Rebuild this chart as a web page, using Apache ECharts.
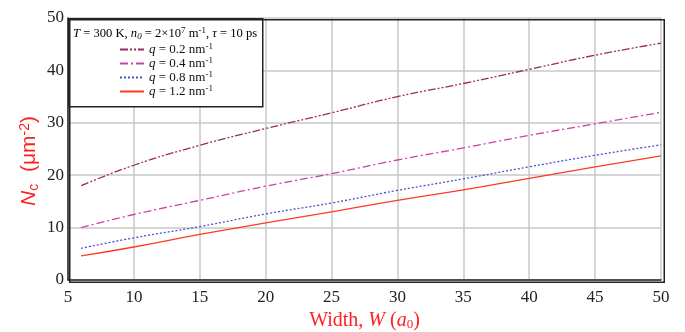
<!DOCTYPE html>
<html>
<head>
<meta charset="utf-8">
<script src="https://cdn.jsdelivr.net/npm/echarts@6/dist/echarts.min.js"></script>
<style>
  html, body { margin: 0; padding: 0; background: #fff; }
  #chart { width: 685px; height: 332px; }
</style>
</head>
<body>
<div id="chart"></div>
<script>
const widths = [6, 10, 15, 20, 25, 30, 35, 40, 45, 50]
// Nc (um^-2) for each q
const nc_q02 = [18.0, 21.9, 25.7, 28.9, 31.9, 35.0, 37.5, 40.2, 42.9, 45.2]
const nc_q04 = [10.0, 12.5, 15.2, 17.9, 20.3, 22.9, 25.2, 27.6, 29.8, 32.0]
const nc_q08 = [6.05, 8.05, 10.2, 12.6, 14.7, 17.1, 19.3, 21.6, 23.8, 25.8]
const nc_q12 = [4.6, 6.3, 8.7, 10.9, 13.0, 15.2, 17.2, 19.4, 21.6, 23.7]
const qLabels = ['0.2', '0.4', '0.8', '1.2']

const serif = '"Liberation Serif", "DejaVu Serif", serif'
const sans = '"Liberation Sans", Arial, sans-serif'

const chart = echarts.init(document.getElementById('chart'))

// pair x with y for a value axis
const pairs = (ys) => widths.map((w, i) => [w, ys[i]])

const mkSeries = (name, ys, color, dash) => ({
  name: name,
  type: 'line',
  data: pairs(ys),
  symbol: 'none',
  smooth: true,
  lineStyle: { color: color, width: 1.3, type: dash },
  itemStyle: { color: color }
})

// rich styles for the legend box text
const boxRich = (size) => ({
  q: { fontFamily: serif, fontStyle: 'italic', fontSize: size, color: '#111' },
  t: { fontFamily: serif, fontSize: size, color: '#111' },
  s: { fontFamily: serif, fontSize: 9, color: '#111', verticalAlign: 'top', padding: [0, 0, 6, 0] },
  b: { fontFamily: serif, fontSize: 9, fontStyle: 'italic', color: '#111', verticalAlign: 'bottom', padding: [5, 0, 0, 0] }
})

const option = {
  animation: false,
  backgroundColor: '#fff',
  grid: {
    left: 68, right: 24, top: 18, bottom: 52,
    outerBoundsMode: 'none'
  },
  xAxis: {
    type: 'value',
    min: 5, max: 50, interval: 5,
    axisLine: { show: true, lineStyle: { color: '#222', width: 1.5 } },
    axisTick: { show: false },
    splitLine: { show: true, lineStyle: { color: '#c8c8c8', width: 1.5 } },
    axisLabel: { margin: 9, fontFamily: serif, fontSize: 17, color: '#222' },
    name: '{a|Width, }{i|W}{a| (}{i|a}{sub|0}{a|)}',
    nameLocation: 'middle',
    nameGap: 29,
    nameTextStyle: {
      rich: {
        a: { fontFamily: serif, fontSize: 20, color: '#ff2020' },
        i: { fontFamily: serif, fontSize: 20, fontStyle: 'italic', color: '#ff2020' },
        sub: { fontFamily: serif, fontSize: 13, color: '#ff2020', verticalAlign: 'bottom', padding: [6, 0, 0, 0] }
      }
    }
  },
  yAxis: {
    type: 'value',
    min: 0, max: 50, interval: 10,
    axisLine: { show: true, lineStyle: { color: '#222', width: 1.5 } },
    axisTick: { show: false },
    splitLine: { show: true, lineStyle: { color: '#c8c8c8', width: 1.5 } },
    axisLabel: { margin: 4, fontFamily: serif, fontSize: 17, color: '#222' },
    name: '{i|N}{sub|c}{a|  (μm}{sup|-2}{a|)}',
    nameLocation: 'middle',
    nameRotate: 90,
    nameGap: 27,
    nameMoveOverlap: false,
    nameTextStyle: {
      padding: [0, 24, 0, 0],
      rich: {
        a: { fontFamily: sans, fontSize: 21, color: '#ff2020' },
        i: { fontFamily: sans, fontSize: 21, fontStyle: 'italic', color: '#ff2020' },
        sub: { fontFamily: sans, fontSize: 14, color: '#ff2020', verticalAlign: 'bottom', padding: [7, 0, 0, 0] },
        sup: { fontFamily: sans, fontSize: 14, color: '#ff2020', verticalAlign: 'top', padding: [0, 0, 9, 0] }
      }
    }
  },
  legend: {
    orient: 'vertical',
    left: 114,
    top: 37,
    z: 10,
    itemWidth: 24,
    itemHeight: 10,
    itemGap: 0,
    itemStyle: { opacity: 0 },
    formatter: (name) => '{q|q}{t| = ' + name.split(' ')[2] + ' nm}{s|-1}',
    textStyle: { rich: boxRich(13), padding: [0, 0, 0, 0] },
    data: qLabels.map((q) => 'q = ' + q)
  },
  graphic: [
    {
      type: 'rect',
      left: 68, top: 18,
      shape: { width: 194, height: 88 },
      style: { fill: '#fff', stroke: '#222', lineWidth: 1.5 },
      z: 5
    },
    {
      // plot frame on top of the grid lines
      type: 'rect',
      left: 67.25, top: 17.25,
      shape: { width: 594.5, height: 262.5 },
      style: { fill: null, stroke: '#222', lineWidth: 1.5 },
      z: 6
    },
    {
      type: 'text',
      left: 73, top: 26,
      z: 6,
      style: {
        text: '{q|T}{t| = 300 K, }{q|n}{b|0}{t| = 2×10}{s|7}{t| m}{s|-1}{t|, }{q|τ}{t| = 10 ps}',
        rich: boxRich(12.6)
      }
    }
  ],
  series: [
    mkSeries('q = 0.2', nc_q02, '#9a2d5e', [8, 2, 2, 2, 2, 2]),
    mkSeries('q = 0.4', nc_q04, '#c844a8', [8, 3, 2, 3]),
    mkSeries('q = 0.8', nc_q08, '#4a4ed0', [2, 2]),
    mkSeries('q = 1.2', nc_q12, '#ff3a22', 'solid')
  ]
}

chart.setOption(option)
</script>
</body>
</html>
